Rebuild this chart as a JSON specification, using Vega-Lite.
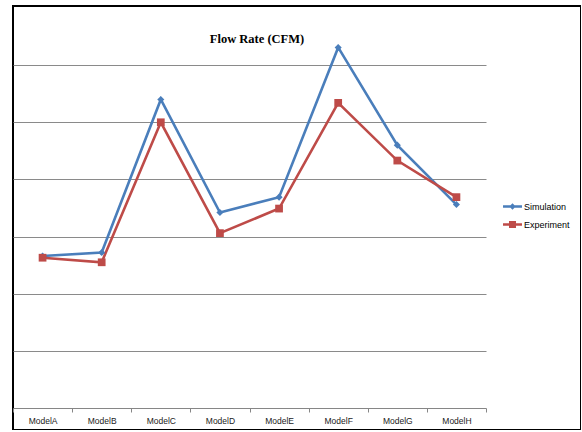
{
  "$schema": "https://vega.github.io/schema/vega-lite/v6.json",
  "width": 568,
  "height": 424,
  "autosize": "none",
  "padding": {"left": 13, "top": 6, "right": 0, "bottom": 0},
  "background": "white",
  "title": {
    "text": "Flow Rate (CFM)",
    "font": "Liberation Serif",
    "fontSize": 12.5,
    "fontWeight": "bold",
    "color": "#000000",
    "anchor": "middle",
    "dx": -40,
    "offset": -49,
    "baseline": "alphabetic"
  },
  "config": {
    "view": {"stroke": "#000000", "strokeWidth": 2}
  },
  "data": {
    "values": [
      {"model": "ModelA", "series": "Simulation", "flow": 2.66},
      {"model": "ModelB", "series": "Simulation", "flow": 2.72},
      {"model": "ModelC", "series": "Simulation", "flow": 5.40},
      {"model": "ModelD", "series": "Simulation", "flow": 3.42},
      {"model": "ModelE", "series": "Simulation", "flow": 3.69},
      {"model": "ModelF", "series": "Simulation", "flow": 6.31},
      {"model": "ModelG", "series": "Simulation", "flow": 4.60},
      {"model": "ModelH", "series": "Simulation", "flow": 3.56},
      {"model": "ModelA", "series": "Experiment", "flow": 2.63},
      {"model": "ModelB", "series": "Experiment", "flow": 2.55},
      {"model": "ModelC", "series": "Experiment", "flow": 5.00},
      {"model": "ModelD", "series": "Experiment", "flow": 3.06},
      {"model": "ModelE", "series": "Experiment", "flow": 3.49},
      {"model": "ModelF", "series": "Experiment", "flow": 5.34},
      {"model": "ModelG", "series": "Experiment", "flow": 4.33},
      {"model": "ModelH", "series": "Experiment", "flow": 3.69}
    ]
  },
  "encoding": {
    "x": {
      "field": "model",
      "type": "nominal",
      "sort": null,
      "scale": {"type": "band", "range": [0, 473], "paddingInner": 0, "paddingOuter": 0},
      "axis": {
        "title": null,
        "labelAngle": 0,
        "labelFont": "Liberation Sans",
        "labelFontSize": 8.5,
        "labelColor": "#1a1a1a",
        "labelPadding": 4,
        "domainColor": "#868686",
        "domainWidth": 1,
        "tickColor": "#868686",
        "tickSize": 4,
        "tickBand": "extent",
        "offset": -22,
        "grid": false
      }
    },
    "y": {
      "field": "flow",
      "type": "quantitative",
      "scale": {"domain": [0, 7], "range": [402, 2], "nice": false},
      "axis": {
        "title": null,
        "labels": false,
        "ticks": false,
        "domain": false,
        "grid": true,
        "gridColor": "#8a8a8a",
        "gridWidth": 1,
        "values": [1, 2, 3, 4, 5, 6]
      }
    }
  },
  "layer": [
    {
      "mark": {"type": "line", "strokeWidth": 2.6},
      "encoding": {
        "color": {
          "field": "series",
          "type": "nominal",
          "scale": {"domain": ["Simulation", "Experiment"], "range": ["#4a7ebb", "#be4b48"]},
          "legend": {
            "title": null,
            "orient": "none",
            "legendX": 490,
            "legendY": 191,
            "padding": 0,
            "rowPadding": 3,
            "labelFont": "Liberation Sans",
            "labelFontSize": 9,
            "labelColor": "#000000",
            "labelOffset": 2,
            "symbolSize": 360,
            "symbolStrokeWidth": 0,
            "encode": {
              "symbols": {
                "update": {
                  "shape": {"signal": "datum.value === 'Simulation' ? 'M-1,-0.13H1V0.13H-1Z M0,-0.34L0.34,0L0,0.34L-0.34,0Z' : 'M-1,-0.13H1V0.13H-1Z M-0.37,-0.37H0.37V0.37H-0.37Z'"},
                  "fill": {"scale": "color", "field": "value"},
                  "stroke": {"value": "transparent"},
                  "opacity": {"value": 1}
                }
              }
            }
          }
        }
      }
    },
    {
      "transform": [{"filter": "datum.series === 'Simulation'"}],
      "mark": {"type": "point", "shape": "diamond", "filled": true, "opacity": 1, "size": 50, "color": "#4a7ebb"}
    },
    {
      "transform": [{"filter": "datum.series === 'Experiment'"}],
      "mark": {"type": "point", "shape": "square", "filled": true, "opacity": 1, "size": 60, "color": "#be4b48"}
    }
  ]
}
